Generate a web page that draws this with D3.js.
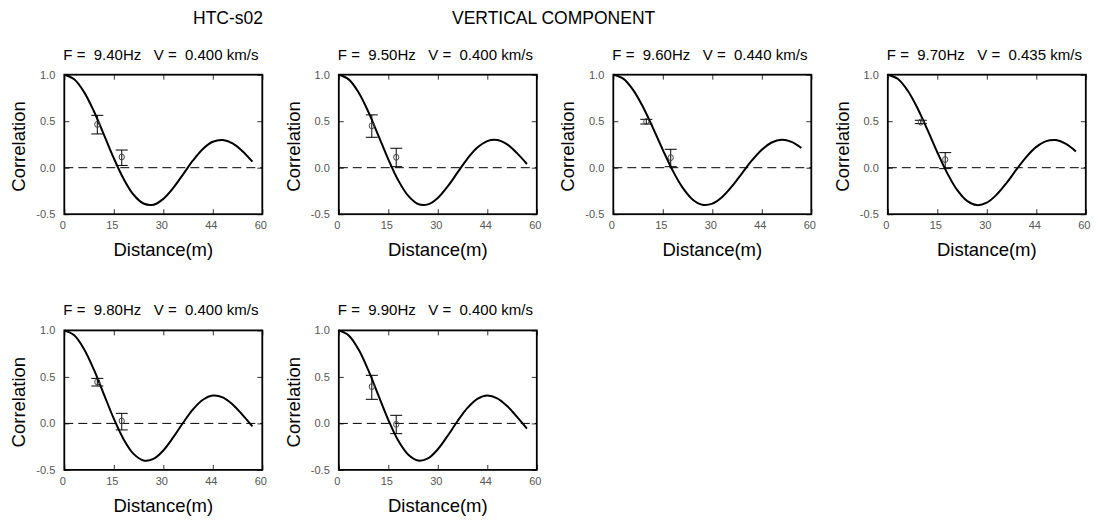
<!DOCTYPE html>
<html>
<head>
<meta charset="utf-8">
<script src="https://cdn.jsdelivr.net/npm/d3@7"></script>
<style>
  html, body { margin: 0; padding: 0; background: #fff; }
  svg { display: block; }
  text { font-family: "Liberation Sans", Arial, Helvetica, sans-serif; white-space: pre; }
</style>
</head>
<body>
<svg id="chart" width="1099" height="524"></svg>
<script>
// ---------- data ----------
const stationName = "HTC-s02";
const componentName = "VERTICAL COMPONENT";
const frequencies = [9.40, 9.50, 9.60, 9.70, 9.80, 9.90];
const velocities = [0.400, 0.400, 0.440, 0.435, 0.400, 0.400];

const curveDistances = [0, 3, 6, 9, 12, 15, 18, 21, 24, 27, 30, 33, 36, 39, 42, 45, 48, 51, 54, 57];
const curve940 = [1.000, 0.951, 0.813, 0.604, 0.356, 0.102, -0.122, -0.291, -0.385, -0.398, -0.335, -0.218, -0.071, 0.078, 0.202, 0.279, 0.298, 0.262, 0.178, 0.065];
const curve950 = [1.000, 0.950, 0.809, 0.597, 0.345, 0.090, -0.135, -0.301, -0.390, -0.394, -0.325, -0.201, -0.051, 0.098, 0.216, 0.286, 0.297, 0.250, 0.157, 0.040];
const curve960 = [1.000, 0.958, 0.837, 0.653, 0.429, 0.192, -0.031, -0.215, -0.341, -0.398, -0.386, -0.314, -0.198, -0.060, 0.078, 0.194, 0.271, 0.300, 0.278, 0.212];
const curve970 = [1.000, 0.956, 0.830, 0.640, 0.409, 0.166, -0.058, -0.239, -0.357, -0.402, -0.376, -0.289, -0.163, -0.019, 0.117, 0.224, 0.286, 0.297, 0.256, 0.175];
const curve980 = [1.000, 0.947, 0.798, 0.575, 0.313, 0.051, -0.172, -0.328, -0.398, -0.382, -0.291, -0.151, 0.007, 0.151, 0.254, 0.299, 0.280, 0.204, 0.092, -0.032];
const curve990 = [1.000, 0.946, 0.794, 0.567, 0.302, 0.038, -0.185, -0.335, -0.400, -0.377, -0.278, -0.133, 0.026, 0.167, 0.264, 0.300, 0.270, 0.187, 0.070, -0.056];
const curves = [curve940, curve950, curve960, curve970, curve980, curve990];

// observed correlations with error bars
const obsDistances = [10.0, 17.4];
const obsMean = [[0.465, 0.115], [0.450, 0.112], [0.496, 0.108], [0.490, 0.087], [0.445, 0.026], [0.395, -0.010]];
const obsLow  = [[0.363, 0.024], [0.327, 0.011], [0.470, 0.011], [0.474, -0.010], [0.402, -0.070], [0.259, -0.110]];
const obsHigh = [[0.563, 0.190], [0.568, 0.209], [0.520, 0.198], [0.510, 0.162], [0.484, 0.108], [0.517, 0.087]];

// axes
const xDomain = [0, 60];
const yDomain = [-0.5, 1.0];
const xTickValues = [0, 15, 30, 45, 60];
const xTickLabels = ["0", "15", "30", "44", "60"];
const yTickValues = [-0.5, 0.0, 0.5, 1.0];
const yTickLabels = ["-0.5", "0.0", "0.5", "1.0"];
const xAxisTitle = "Distance(m)";
const yAxisTitle = "Correlation";

// ---------- layout ----------
const svg = d3.select("#chart");
const W = 198, H = 139.5;
const left0 = 64.3, colStep = 274.5, top0 = 74.7, rowStep = 255.7, nCols = 4;
const FONT = '"Liberation Sans", Arial, Helvetica, sans-serif';

svg.append("text").attr("x", 193).attr("y", 24).attr("font-size", 17.5).attr("fill", "#000").text(stationName);
svg.append("text").attr("x", 452).attr("y", 24).attr("font-size", 17.5).attr("fill", "#000").text(componentName);

const x = d3.scaleLinear().domain(xDomain).range([0, W]);
const y = d3.scaleLinear().domain(yDomain).range([H, 0]);

const line = d3.line()
  .x((d, i) => x(curveDistances[i]))
  .y(d => y(d))
  .curve(d3.curveCatmullRom.alpha(0.5));

frequencies.forEach((f, p) => {
  const col = p % nCols, row = Math.floor(p / nCols);
  const g = svg.append("g").attr("transform", `translate(${left0 + col * colStep},${top0 + row * rowStep})`);

  // title
  g.append("text").attr("x", -1).attr("y", -15).attr("font-size", 15).attr("fill", "#000")
    .text(`F =  ${f.toFixed(2)}Hz   V =  ${velocities[p].toFixed(3)} km/s`);

  // axes with inward ticks
  const bottom = g.append("g").attr("transform", `translate(0,${H})`)
    .call(d3.axisBottom(x).tickValues(xTickValues).tickFormat((d, i) => xTickLabels[i]).tickSize(-5).tickPadding(7.5));
  const top = g.append("g")
    .call(d3.axisTop(x).tickValues(xTickValues).tickFormat("").tickSize(-5));
  const leftAx = g.append("g")
    .call(d3.axisLeft(y).tickValues(yTickValues).tickFormat((d, i) => yTickLabels[i]).tickSize(-5).tickPadding(9));
  const rightAx = g.append("g").attr("transform", `translate(${W},0)`)
    .call(d3.axisRight(y).tickValues(yTickValues).tickFormat("").tickSize(-5));
  [bottom, top, leftAx, rightAx].forEach(a => {
    a.select(".domain").remove();
    a.selectAll(".tick line").attr("stroke", "#333").attr("stroke-width", 1);
    a.selectAll(".tick text").attr("fill", "#555").attr("font-size", 11).attr("font-family", FONT);
  });
  bottom.selectAll(".tick text").attr("dx", -2);

  // zero dashed line
  g.append("line").attr("x1", x(xDomain[0])).attr("x2", x(xDomain[1]))
    .attr("y1", y(0)).attr("y2", y(0))
    .attr("stroke", "#000").attr("stroke-width", 1).attr("stroke-dasharray", "9,5");

  // theoretical curve
  g.append("path").datum(curves[p]).attr("d", line)
    .attr("fill", "none").attr("stroke", "#000").attr("stroke-width", 2);

  // observations
  obsDistances.forEach((dist, j) => {
    const cx = x(dist);
    const eg = g.append("g").attr("stroke", "#000").attr("stroke-width", 1).attr("fill", "none");
    eg.append("line").attr("x1", cx).attr("x2", cx).attr("y1", y(obsLow[p][j])).attr("y2", y(obsHigh[p][j]));
    eg.append("line").attr("x1", cx - 6).attr("x2", cx + 6).attr("y1", y(obsLow[p][j])).attr("y2", y(obsLow[p][j]));
    eg.append("line").attr("x1", cx - 6).attr("x2", cx + 6).attr("y1", y(obsHigh[p][j])).attr("y2", y(obsHigh[p][j]));
    eg.append("ellipse").attr("cx", cx).attr("cy", y(obsMean[p][j])).attr("rx", 2.6).attr("ry", 3)
      .attr("stroke", "#444");
  });

  // frame
  g.append("rect").attr("x", 0).attr("y", 0).attr("width", W).attr("height", H)
    .attr("fill", "none").attr("stroke", "#000").attr("stroke-width", 1.8);

  // axis titles
  g.append("text").attr("x", W / 2).attr("y", H + 42).attr("text-anchor", "middle")
    .attr("font-size", 18.5).attr("fill", "#000").text(xAxisTitle);
  g.append("text").attr("transform", `translate(${-39},${H / 2 + 2}) rotate(-90)`)
    .attr("text-anchor", "middle").attr("font-size", 18.5).attr("fill", "#000").text(yAxisTitle);
});
</script>
</body>
</html>
